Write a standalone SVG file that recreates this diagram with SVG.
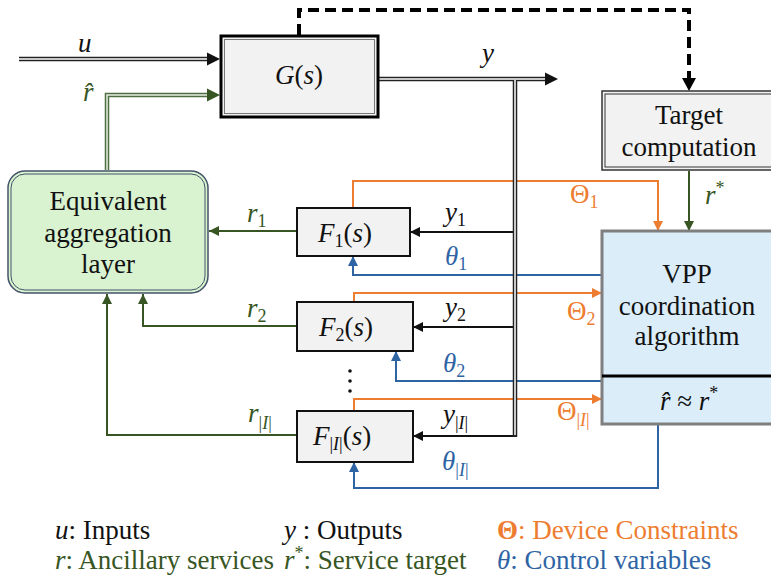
<svg xmlns="http://www.w3.org/2000/svg" width="771" height="581" viewBox="0 0 771 581">
<defs>
<style>
.ln{fill:none;stroke-width:2;}
.fb{fill:#f2f2f2;stroke:#111;stroke-width:2;}
</style>
<marker id="aK" markerUnits="userSpaceOnUse" markerWidth="10" markerHeight="10" refX="10" refY="5" orient="auto"><path d="M0,0 L10,5 L0,10 z" fill="#111"/></marker>
<marker id="aG" markerUnits="userSpaceOnUse" markerWidth="10" markerHeight="10" refX="10" refY="5" orient="auto"><path d="M0,0 L10,5 L0,10 z" fill="#375623"/></marker>
<marker id="aO" markerUnits="userSpaceOnUse" markerWidth="10" markerHeight="10" refX="10" refY="5" orient="auto"><path d="M0,0 L10,5 L0,10 z" fill="#ed7d31"/></marker>
<marker id="aB" markerUnits="userSpaceOnUse" markerWidth="10" markerHeight="10" refX="10" refY="5" orient="auto"><path d="M0,0 L10,5 L0,10 z" fill="#2e64a4"/></marker>
</defs>
<rect width="771" height="581" fill="#fff"/>

<g id="connectors">
  <path class="ln" d="M297,231 H209" stroke="#375623" marker-end="url(#aG)"/>
  <path class="ln" d="M297,326 H143 V294" stroke="#375623" marker-end="url(#aG)"/>
  <path class="ln" d="M297,435 H107 V294" stroke="#375623" marker-end="url(#aG)"/>
  <path class="ln" d="M689,171 V231" stroke="#375623" marker-end="url(#aG)"/>
  <path class="ln" d="M353,208 V181 H658 V231" stroke="#ed7d31" marker-end="url(#aO)"/>
  <path class="ln" d="M354,302 V293 H602" stroke="#ed7d31" marker-end="url(#aO)"/>
  <path class="ln" d="M354,411 V399 H602" stroke="#ed7d31" marker-end="url(#aO)"/>
  <path class="ln" d="M602,275 H353 V256" stroke="#2e64a4" marker-end="url(#aB)"/>
  <path class="ln" d="M602,381 H396 V351" stroke="#2e64a4" marker-end="url(#aB)"/>
  <path class="ln" d="M658,424 V488 H354 V462" stroke="#2e64a4" marker-end="url(#aB)"/>
  <path class="ln" d="M515,232 H410" stroke="#111" marker-end="url(#aK)"/>
  <path class="ln" d="M515,327 H413" stroke="#111" marker-end="url(#aK)"/>
  <path class="ln" d="M515,436 H413" stroke="#111" marker-end="url(#aK)"/>
  <path d="M19,59 H208" fill="none" stroke="#222" stroke-width="4.5"/>
  <path d="M19,59 H208" fill="none" stroke="#fff" stroke-width="1.5"/>
  <polygon points="220,59 207,52.5 207,65.5" fill="#111"/>
  <path d="M379,79 H546 M515,78 V437" fill="none" stroke="#222" stroke-width="4.5"/>
  <path d="M379,79 H546 M515,80 V435" fill="none" stroke="#fff" stroke-width="1.5"/>
  <polygon points="558,79 545,72.5 545,85.5" fill="#111"/>
  <path d="M107,170 V95 H208" fill="none" stroke="#4f6e42" stroke-width="4.5"/>
  <path d="M107,170 V95 H208" fill="none" stroke="#e8efe4" stroke-width="1.5"/>
  <polygon points="220,95 207,88.5 207,101.5" fill="#375623"/>
  <path d="M299,35 V10 H689 V79" fill="none" stroke="#000" stroke-width="4" stroke-dasharray="11,6"/>
  <polygon points="689,91 682,78 696,78" fill="#000"/>
</g>

<g id="G">
  <rect x="221" y="36" width="157" height="81" fill="#f2f2f2" stroke="#000" stroke-width="3"/>
  <rect x="224.5" y="39.5" width="150" height="74" fill="none" stroke="#777" stroke-width="1"/>
  <text x="299" y="84" text-anchor="middle" font-family="serif" font-size="27" font-style="italic" fill="#111">G<tspan font-style="normal">(</tspan>s<tspan font-style="normal">)</tspan></text>
</g>

<g id="target">
  <rect x="602" y="91" width="175" height="79" fill="#f2f2f2" stroke="#333" stroke-width="1.5"/>
  <rect x="605" y="94" width="175" height="73" fill="none" stroke="#333" stroke-width="1"/>
  <text x="689" y="124" text-anchor="middle" font-family="serif" font-size="27" fill="#111">Target</text>
  <text x="689" y="156" text-anchor="middle" font-family="serif" font-size="27" fill="#111">computation</text>
</g>

<g id="equiv">
  <rect x="8" y="171" width="200" height="122" rx="17" fill="#d9f2d0" stroke="#44546a" stroke-width="1.5"/>
  <rect x="11" y="174" width="194" height="116" rx="14" fill="none" stroke="#44546a" stroke-width="1"/>
  <text x="108" y="210" text-anchor="middle" font-family="serif" font-size="27" fill="#111">Equivalent</text>
  <text x="108" y="242" text-anchor="middle" font-family="serif" font-size="27" fill="#111">aggregation</text>
  <text x="108" y="273" text-anchor="middle" font-family="serif" font-size="27" fill="#111">layer</text>
</g>

<g id="F1">
  <rect class="fb" x="297" y="208" width="113" height="48"/>
  <text x="318" y="242" font-family="serif" font-size="27" font-style="italic" fill="#111">F<tspan font-size="18" font-style="normal" dy="5">1</tspan><tspan font-style="normal" dy="-5">(</tspan>s<tspan font-style="normal">)</tspan></text>
</g>
<g id="F2">
  <rect class="fb" x="297" y="302" width="116" height="49"/>
  <text x="319" y="336" font-family="serif" font-size="27" font-style="italic" fill="#111">F<tspan font-size="18" font-style="normal" dy="5">2</tspan><tspan font-style="normal" dy="-5">(</tspan>s<tspan font-style="normal">)</tspan></text>
</g>
<g id="dots" fill="#111">
  <circle cx="350" cy="371" r="1.8"/><circle cx="350" cy="381" r="1.8"/><circle cx="350" cy="391" r="1.8"/>
</g>
<g id="FI">
  <rect class="fb" x="297" y="411" width="116" height="51"/>
  <text x="313" y="445" font-family="serif" font-size="27" font-style="italic" fill="#111">F<tspan font-size="18" font-style="normal" dy="5">|<tspan font-style="italic">I</tspan>|</tspan><tspan font-style="normal" dy="-5">(</tspan>s<tspan font-style="normal">)</tspan></text>
</g>

<g id="vpp">
  <rect x="602" y="231" width="175" height="193" fill="#daedf8" stroke="#7f7f7f" stroke-width="3"/>
  <line x1="602" y1="376" x2="771" y2="376" stroke="#000" stroke-width="3"/>
  <text x="687" y="283" text-anchor="middle" font-family="serif" font-size="27" fill="#111">VPP</text>
  <text x="687" y="315" text-anchor="middle" font-family="serif" font-size="27" fill="#111">coordination</text>
  <text x="687" y="345" text-anchor="middle" font-family="serif" font-size="27" fill="#111">algorithm</text>
  <text x="660" y="410" font-family="serif" font-size="27" font-style="italic" fill="#111">r&#x302;<tspan font-style="normal"> ≈ </tspan>r<tspan font-size="18" font-style="normal" dy="-11">*</tspan></text>
</g>

<g id="labels">
  <text x="78" y="52" font-family="serif" font-size="27" font-style="italic" fill="#111">u</text>
  <text x="83" y="101" font-family="serif" font-size="27" font-style="italic" fill="#375623">r&#x302;</text>
  <text x="482" y="62" font-family="serif" font-size="27" font-style="italic" fill="#111">y</text>
  <text x="247" y="222" font-family="serif" font-size="27" font-style="italic" fill="#375623">r<tspan font-size="18" font-style="normal" dy="5">1</tspan></text>
  <text x="247" y="317" font-family="serif" font-size="27" font-style="italic" fill="#375623">r<tspan font-size="18" font-style="normal" dy="5">2</tspan></text>
  <text x="248" y="422" font-family="serif" font-size="27" font-style="italic" fill="#375623">r<tspan font-size="18" font-style="normal" dy="7">|<tspan font-style="italic">I</tspan>|</tspan></text>
  <text x="445" y="221" font-family="serif" font-size="27" font-style="italic" fill="#111">y<tspan font-size="18" font-style="normal" dy="5">1</tspan></text>
  <text x="445" y="316" font-family="serif" font-size="27" font-style="italic" fill="#111">y<tspan font-size="18" font-style="normal" dy="5">2</tspan></text>
  <text x="443" y="423" font-family="serif" font-size="27" font-style="italic" fill="#111">y<tspan font-size="18" font-style="normal" dy="6">|<tspan font-style="italic">I</tspan>|</tspan></text>
  <text x="445" y="265" font-family="serif" font-size="27" font-style="italic" fill="#2e64a4">θ<tspan font-size="18" font-style="normal" dy="5">1</tspan></text>
  <text x="443" y="372" font-family="serif" font-size="27" font-style="italic" fill="#2e64a4">θ<tspan font-size="18" font-style="normal" dy="5">2</tspan></text>
  <text x="442" y="470" font-family="serif" font-size="27" font-style="italic" fill="#2e64a4">θ<tspan font-size="18" font-style="normal" dy="6">|<tspan font-style="italic">I</tspan>|</tspan></text>
  <text x="570" y="203" font-family="serif" font-size="27" fill="#ed7d31">Θ<tspan font-size="18" dy="5">1</tspan></text>
  <text x="567" y="320" font-family="serif" font-size="27" fill="#ed7d31">Θ<tspan font-size="18" dy="5">2</tspan></text>
  <text x="557" y="420" font-family="serif" font-size="27" fill="#ed7d31">Θ<tspan font-size="18" dy="6">|<tspan font-style="italic">I</tspan>|</tspan></text>
  <text x="705" y="204" font-family="serif" font-size="27" font-style="italic" fill="#375623">r<tspan font-size="18" font-style="normal" dy="-10">*</tspan></text>
</g>

<g id="legend">
  <text x="55" y="539" font-family="serif" font-size="27" fill="#111"><tspan font-style="italic">u</tspan>: Inputs</text>
  <text x="284" y="539" font-family="serif" font-size="27" fill="#111"><tspan font-style="italic">y</tspan> : Outputs</text>
  <text x="497" y="539" font-family="serif" font-size="27" fill="#ed7d31"><tspan font-weight="bold">Θ</tspan>: Device Constraints</text>
  <text x="55" y="569" font-family="serif" font-size="27" fill="#375623"><tspan font-style="italic">r</tspan>: Ancillary services</text>
  <text x="284" y="569" font-family="serif" font-size="27" fill="#375623"><tspan font-style="italic">r</tspan><tspan font-size="18" dy="-10">*</tspan><tspan dy="10">: Service target</tspan></text>
  <text x="497" y="569" font-family="serif" font-size="27" fill="#2e64a4"><tspan font-style="italic">θ</tspan>: Control variables</text>
</g>
</svg>
